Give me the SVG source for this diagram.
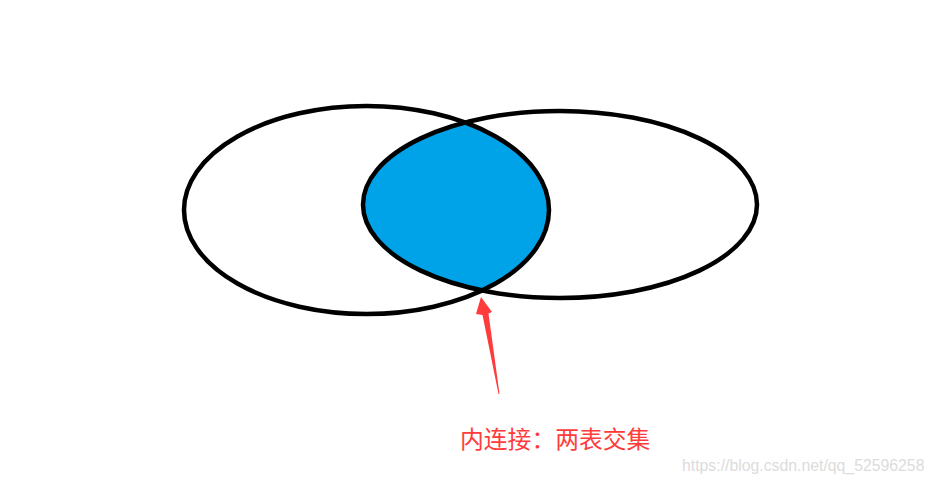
<svg xmlns="http://www.w3.org/2000/svg" width="935" height="484" viewBox="0 0 935 484">
<defs>
<style>
.ring{fill:none;stroke:#000;stroke-width:4.5}
.label{font-family:"Microsoft YaHei","Noto Sans CJK SC",sans-serif;font-size:23.8px;fill:#FF3B3B}
.wm{font-family:"Liberation Sans",Arial,sans-serif;font-size:15.8px;fill:#DCDCDC}
</style>
<clipPath id="clipLeft"><ellipse cx="366.5" cy="210" rx="182.5" ry="104"/></clipPath>
</defs>
<rect width="935" height="484" fill="#fff"/>
<g id="intersection">
<ellipse cx="560" cy="204.5" rx="197" ry="93.5" fill="#00A2E8" clip-path="url(#clipLeft)"/>
</g>
<g id="tableA">
<ellipse class="ring" cx="366.5" cy="210" rx="182.5" ry="104"/>
</g>
<g id="tableB">
<ellipse class="ring" cx="560" cy="204.5" rx="197" ry="93.5"/>
</g>
<g id="connectors">
<polygon points="481,297 492,312 488.5,313.5 499.5,394 498.5,394 482.5,315 476,314" fill="#FF3B3B"/>
</g>
<g id="caption">
<text class="label" x="460" y="448">内连接：两表交集</text>
</g>
<text class="wm" x="682" y="471">https://blog.csdn.net/qq_52596258</text>
</svg>
